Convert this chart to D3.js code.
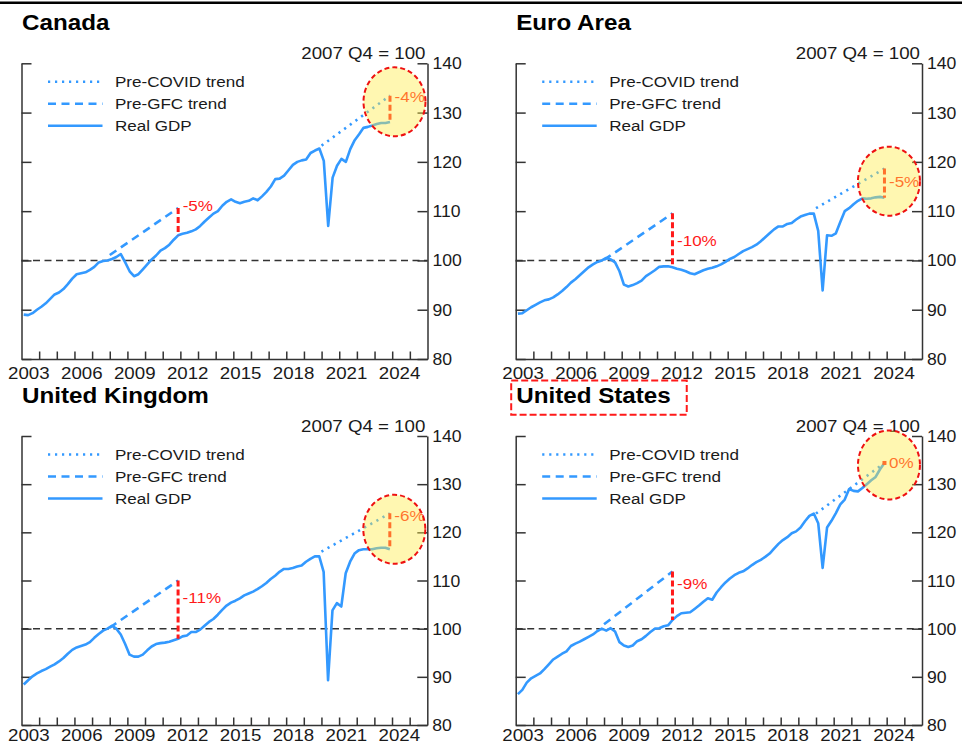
<!DOCTYPE html>
<html>
<head>
<meta charset="utf-8">
<script src="https://cdn.jsdelivr.net/npm/d3@7"></script>
<style>
  body { margin: 0; background: #fff; }
  svg { display: block; }
</style>
</head>
<body>
<svg id="chart" width="962" height="745"></svg>
<script>
// Real GDP, index 2007 Q4 = 100, quarterly from 2003 Q1 to 2023 Q4
const firstYear = 2003;

const canada = [
  89.0, 88.9, 89.3, 90.0,   90.6, 91.3, 92.2, 93.1,   93.5, 94.2, 95.2, 96.3,
  97.2, 97.4, 97.6, 98.1,   98.7, 99.6, 99.9, 100.0,  100.3, 100.7, 101.3, 99.6,
  97.8, 96.8, 97.2, 98.2,   99.2, 100.2, 101.0, 102.0, 102.5, 103.2, 104.2, 105.1,
  105.4, 105.6, 105.9, 106.3, 107.0, 107.9, 108.7, 109.5, 110.0, 111.1, 111.9, 112.4,
  111.9, 111.6, 111.9, 112.1, 112.6, 112.2, 113.0, 113.9, 115.0, 116.5, 116.6, 117.2,
  118.3, 119.4, 120.0, 120.3, 120.5, 121.8, 122.3, 122.7, 120.2, 107.0, 116.8, 119.2,
  120.6, 120.0, 122.6, 124.4, 125.6, 126.9, 127.1, 127.4, 127.7, 127.9, 127.9, 128.1
];

const euroArea = [
  89.2, 89.3, 89.9, 90.5,   91.0, 91.5, 91.9, 92.1,   92.5, 93.1, 93.8, 94.6,
  95.5, 96.2, 97.0, 97.8,   98.6, 99.2, 99.7, 100.0,  100.5, 100.2, 99.6, 97.8,
  95.1, 94.7, 95.0, 95.4,   95.9, 96.8, 97.4, 98.0,   98.7, 98.8, 98.8, 98.6,
  98.3, 98.1, 97.8, 97.4,   97.2, 97.6, 98.0, 98.3,   98.5, 98.8, 99.2, 99.7,
  100.3, 100.7, 101.3, 101.9, 102.3, 102.7, 103.2, 103.9, 104.7, 105.5, 106.3, 106.9,
  106.9, 107.4, 107.6, 108.3, 108.9, 109.2, 109.5, 109.5, 106.0, 93.9, 105.1, 105.0,
  105.5, 107.8, 110.0, 110.6, 111.4, 112.1, 112.6, 112.5, 112.6, 112.8, 112.9, 112.7
];

const unitedKingdom = [
  88.4, 89.3, 90.1, 90.7,   91.2, 91.6, 92.1, 92.6,   93.2, 93.9, 94.8, 95.6,
  96.1, 96.4, 96.7, 97.2,   98.1, 98.9, 99.6, 100.0,  100.6, 100.0, 98.8, 96.8,
  94.6, 94.2, 94.2, 94.6,   95.5, 96.3, 96.8, 97.0,   97.1, 97.3, 97.6, 97.9,
  98.4, 98.6, 99.3, 99.3,   99.8, 100.6, 101.4, 102.0, 102.9, 103.9, 104.8, 105.4,
  105.8, 106.3, 106.9, 107.3, 107.7, 108.2, 108.8, 109.5, 110.3, 111.0, 111.8, 112.4,
  112.4, 112.6, 112.9, 113.1, 113.9, 114.5, 115.0, 115.0, 111.8, 89.3, 103.8, 105.3,
  104.6, 111.5, 113.9, 115.6, 116.3, 116.5, 116.5, 116.5, 116.7, 116.8, 116.8, 116.5
];

const unitedStates = [
  86.4, 87.3, 88.8, 89.7,   90.2, 90.7, 91.6, 92.6,   93.6, 94.2, 94.8, 95.3,
  96.4, 96.9, 97.3, 97.8,   98.3, 98.8, 99.5, 100.0,  99.6, 100.1, 99.4, 97.2,
  96.5, 96.2, 96.5, 97.4,   97.8, 98.5, 99.3, 100.0,  100.1, 100.5, 100.7, 101.8,
  102.6, 103.2, 103.3, 103.4, 104.1, 104.8, 105.6, 106.3, 106.0, 107.5, 108.6, 109.6,
  110.4, 111.1, 111.6, 111.9, 112.5, 113.2, 113.8, 114.3, 114.9, 115.6, 116.6, 117.6,
  118.4, 119.0, 119.8, 120.2, 121.0, 122.3, 123.4, 123.9, 121.9, 112.6, 121.0, 122.4,
  124.0, 125.8, 126.8, 129.0, 128.6, 128.5, 129.2, 130.0, 130.8, 131.5, 133.1, 134.4
];

const panelTitles = ["Canada", "Euro Area", "United Kingdom", "United States"];
const panelSeries = [canada, euroArea, unitedKingdom, unitedStates];

// Shortfall of real GDP against each trend, in per cent
const gfcGap = [-5, -10, -11, -9];     // measured at 2011 Q4
const covidGap = [-4, -5, -6, 0];      // measured at 2023 Q4

// Trend lines begin at these index levels (2008 and 2020 respectively)
const gfcTrendStart = [101.1, 100.1, 100.2, 100.9];
const covidTrendStart = [123.3, 110.6, 116.0, 123.9];
const gfcTrendFrom = 2008.0, gfcGapQuarter = "2011 Q4";
const covidTrendFrom = 2020.0, covidGapQuarter = "2023 Q4";

const yTicks = [80, 90, 100, 110, 120, 130, 140];
const xTickYears = d3.range(2004, 2026);
const xLabelYears = [2003, 2006, 2009, 2012, 2015, 2018, 2021, 2024];
const legendLabels = ["Pre-COVID trend", "Pre-GFC trend", "Real GDP"];
const baseLabel = "2007 Q4 = 100";
const highlightedPanel = "United States";

// ---- layout -------------------------------------------------------------
const panels = [
  { left: 21.5,  right: 427.5, top: 63.3, bottom: 359 },
  { left: 515.7, right: 922,   top: 63.3, bottom: 359 },
  { left: 21.5,  right: 427.3, top: 436,  bottom: 725 },
  { left: 515.7, right: 922,   top: 436,  bottom: 725 }
];
// where each gap label sits along its gap marker (0 = trend end, 1 = GDP)
const gfcLabelFrac = [-0.08, 0.5, 0.3, 0.25];
const covidLabelFrac = [0.05, 0.45, 0.05, 0];
const circleDy = [-7, -2, -2, 2];

const BLUE = "#3399ff";
const RED = "#ff1a1a";
const INK = "#1a1a1a";
const AXIS = "#333";
const FONT = "'Liberation Sans', Arial, Helvetica, sans-serif";
const SX = 1.1;   // slightly wide lettering
const PAGE_H = 745;

const svg = d3.select("#chart");

function addText(g, x, y, str, size, opts = {}) {
  return g.append("text")
    .attr("transform", `translate(${x},${y}) scale(${SX},1)`)
    .attr("font-family", FONT)
    .attr("font-size", size)
    .attr("font-weight", opts.weight || "normal")
    .attr("text-anchor", opts.anchor || "start")
    .attr("fill", opts.fill || INK)
    .text(str);
}

const quarterTime = i => firstYear + (i + 0.5) / 4;
const quarterIndex = q => {
  const [yr, qq] = q.split(" Q").map(Number);
  return (yr - firstYear) * 4 + (qq - 1);
};

// top rule
svg.append("line")
  .attr("x1", 0).attr("x2", 962).attr("y1", 2.8).attr("y2", 2.8)
  .attr("stroke", "#000").attr("stroke-width", 2.5);

panelTitles.forEach((title, p) => {
  const L = panels[p];
  const data = panelSeries[p];
  const g = svg.append("g");

  const x = d3.scaleLinear().domain([2003, 2026]).range([L.left, L.right]);
  const y = d3.scaleLinear().domain([80, 140]).range([L.bottom, L.top]);

  // axes: left and right with inward ticks, bottom with inward year ticks
  const axLeft = g.append("g").attr("transform", `translate(${L.left},0)`)
    .call(d3.axisLeft(y).tickValues(yTicks).tickSize(-10).tickSizeOuter(0).tickFormat(""));
  const axRight = g.append("g").attr("transform", `translate(${L.right},0)`)
    .call(d3.axisRight(y).tickValues(yTicks).tickSize(-10).tickSizeOuter(0).tickFormat(""));
  const axBottom = g.append("g").attr("transform", `translate(0,${L.bottom})`)
    .call(d3.axisBottom(x).tickValues(xTickYears).tickSize(-7.5).tickSizeOuter(0).tickFormat(""));
  [axLeft, axRight, axBottom].forEach(a => {
    a.selectAll("path, line").attr("stroke", AXIS).attr("stroke-width", 1.5);
  });

  // axis labels
  yTicks.forEach(v => addText(g, L.right + 5, y(v) + 6, String(v), 16));
  const xLabelBase = Math.min(L.bottom + 19.5, PAGE_H - 4.5);
  xLabelYears.forEach(yr => addText(g, x(yr + 0.5) - 1.5, xLabelBase, String(yr), 17, { anchor: "middle" }));

  // title and base note
  const titleText = addText(g, L.left + 0.5, L.top - 33, title, 22, { weight: "bold", fill: "#000" });
  addText(g, L.right - 2, L.top - 4.5, baseLabel, 17, { anchor: "end" });

  if (title === highlightedPanel) {
    const w = titleText.node().getComputedTextLength() * SX;
    g.append("rect")
      .attr("x", L.left - 4.5).attr("y", L.top - 55.5)
      .attr("width", w + 21).attr("height", 34.3)
      .attr("fill", "none").attr("stroke", RED).attr("stroke-width", 2)
      .attr("stroke-dasharray", "7 3");
  }

  // reference line at 100
  g.append("line")
    .attr("x1", L.left).attr("x2", L.right).attr("y1", y(100)).attr("y2", y(100))
    .attr("stroke", AXIS).attr("stroke-width", 1.5).attr("stroke-dasharray", "7 4.5");

  // trend lines, ending where the stated gap places them
  const gi = quarterIndex(gfcGapQuarter), ci = quarterIndex(covidGapQuarter);
  const gfcEnd = { t: quarterTime(gi), v: data[gi] / (1 + gfcGap[p] / 100) };
  const covEnd = { t: quarterTime(ci), v: data[ci] / (1 + covidGap[p] / 100) };

  g.append("line")
    .attr("x1", x(gfcTrendFrom)).attr("y1", y(gfcTrendStart[p]))
    .attr("x2", x(gfcEnd.t)).attr("y2", y(gfcEnd.v))
    .attr("stroke", BLUE).attr("stroke-width", 2.6).attr("stroke-dasharray", "8 5.5");
  g.append("line")
    .attr("x1", x(covidTrendFrom)).attr("y1", y(covidTrendStart[p]))
    .attr("x2", x(covEnd.t)).attr("y2", y(covEnd.v))
    .attr("stroke", BLUE).attr("stroke-width", 2.6).attr("stroke-dasharray", "2.2 4.8");

  // real GDP
  const line = d3.line().x((d, i) => x(quarterTime(i))).y(d => y(d));
  g.append("path").datum(data)
    .attr("d", line)
    .attr("fill", "none").attr("stroke", BLUE).attr("stroke-width", 2.6)
    .attr("stroke-linejoin", "round");

  // gap markers and labels
  function gapMarker(end, actual, gap, frac) {
    const xx = x(end.t), y0 = y(end.v), y1 = y(actual);
    g.append("line")
      .attr("x1", xx).attr("x2", xx).attr("y1", y0).attr("y2", y1)
      .attr("stroke", RED).attr("stroke-width", 3).attr("stroke-dasharray", "6 3");
    if (gap === 0) {
      g.append("rect").attr("x", xx - 2).attr("y", y0 - 2).attr("width", 4).attr("height", 4).attr("fill", RED);
    }
    const ly = y0 + (y1 - y0) * frac;
    addText(g, xx + 4.5, ly + 5.5, `${gap}%`, 15.5, { fill: RED });
  }
  gapMarker(gfcEnd, data[gi], gfcGap[p], gfcLabelFrac[p]);
  gapMarker(covEnd, data[ci], covidGap[p], covidLabelFrac[p]);

  // highlight over the latest gap
  const cx = x(covEnd.t) + 4.5;
  const cy = (y(covEnd.v) + y(data[ci])) / 2 + circleDy[p];
  g.append("ellipse")
    .attr("cx", cx).attr("cy", cy).attr("rx", 31).attr("ry", 34.5)
    .attr("fill", "rgb(255,236,70)").attr("fill-opacity", 0.42)
    .attr("stroke", "#ee1111").attr("stroke-width", 2).attr("stroke-dasharray", "5 3");

  // legend
  const styles = [
    { dash: "2.2 4.8" },
    { dash: "8 5.5" },
    { dash: null }
  ];
  legendLabels.forEach((lab, k) => {
    const ry = L.top + 18.5 + k * 22;
    const ln = g.append("line")
      .attr("x1", L.left + 26.5).attr("x2", L.left + 81)
      .attr("y1", ry).attr("y2", ry)
      .attr("stroke", BLUE).attr("stroke-width", 2.6);
    if (styles[k].dash) ln.attr("stroke-dasharray", styles[k].dash);
    addText(g, L.left + 93.5, ry + 5.5, lab, 15.5);
  });
});
</script>
</body>
</html>
